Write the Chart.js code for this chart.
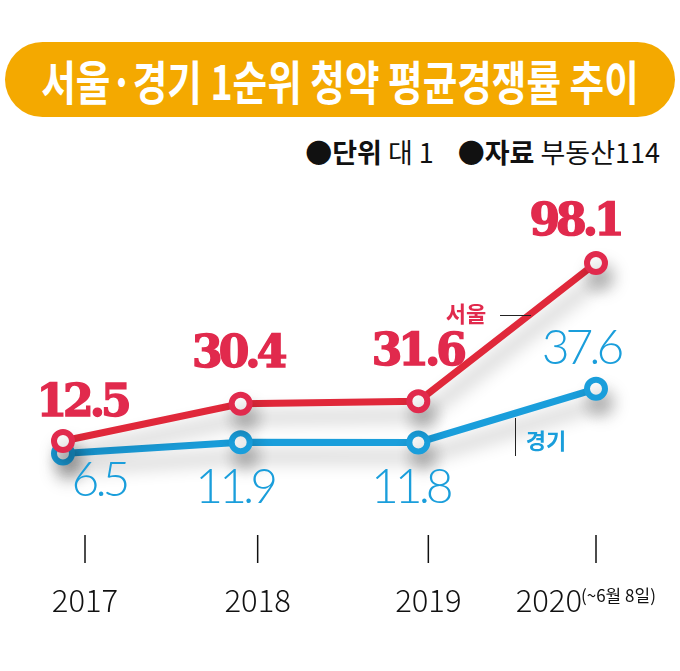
<!DOCTYPE html>
<html>
<head>
<meta charset="utf-8">
<script src="https://cdn.jsdelivr.net/npm/chart.js@4"></script>
<style>
  body { margin: 0; background: #fff; width: 680px; height: 671px; overflow: hidden; position: relative; font-family: "Noto Sans CJK KR", sans-serif; }
  #title { position: absolute; left: 5px; top: 42px; width: 670px; height: 75px; border-radius: 38px; background: #f4a900; }
  #title span { position: absolute; left: 50%; top: 0; line-height: 75px; color: #fff; font-weight: 700; font-size: 47px;
                white-space: nowrap; transform: translateX(-50%) scaleX(0.8); }
  #legend { position: absolute; right: 20px; top: 132px; font-size: 27px; color: #111; white-space: nowrap; }
  #legend b { font-weight: 700; }
  #legend .gap { display: inline-block; width: 24px; }
  #chart { position: absolute; left: 0; top: 0; }
</style>
</head>
<body>
<div id="title"><span>서울·경기 1순위 청약 평균경쟁률 추이</span></div>
<div id="legend">●<b>단위</b> 대 1<span class="gap"></span>●<b>자료</b> 부동산114</div>
<canvas id="chart" width="680" height="671"></canvas>
<script>
const years = ["2017", "2018", "2019", "2020"];
const seoul = [12.5, 30.4, 31.6, 98.1];
const gyeonggi = [6.5, 11.9, 11.8, 37.6];

const RED = "#e0283a";
const RED_PT = "#e12a4d";
const BLUE = "#1a9edb";

// label offsets from each point (px)
const seoulOffsets = [[19, -36], [-3, -48], [-1, -48], [-21, -39]];
const ggOffsets = [[36, 27], [-6, 45], [-8, 45], [-15, -40]];
// year label shift from data x position
const yearShift = [22, 17, 10, 0];

const shadowPlugin = {
  id: "shadow",
  beforeDatasetDraw(chart) {
    const ctx = chart.ctx;
    ctx.save();
    ctx.shadowColor = "rgba(0,0,0,0.3)";
    ctx.shadowBlur = 18;
    ctx.shadowOffsetX = 5;
    ctx.shadowOffsetY = 14;
  },
  afterDatasetDraw(chart) {
    chart.ctx.restore();
  }
};

const labelPlugin = {
  id: "labels",
  afterDatasetsDraw(chart) {
    const ctx = chart.ctx;
    const x = chart.scales.x;
    ctx.save();
    ctx.textAlign = "center";
    ctx.textBaseline = "middle";

    // 서울 values (heavy)
    let meta = chart.getDatasetMeta(0);
    ctx.font = "bold 44px 'DejaVu Serif'";
    ctx.fillStyle = RED_PT;
    ctx.strokeStyle = RED_PT;
    ctx.lineWidth = 1.5;
    ctx.letterSpacing = "-4px";
    meta.data.forEach((pt, i) => {
      const tx = pt.x + seoulOffsets[i][0], ty = pt.y + seoulOffsets[i][1];
      ctx.fillText(seoul[i].toFixed(1), tx, ty);
      ctx.strokeText(seoul[i].toFixed(1), tx, ty);
    });

    // 경기 values (light)
    meta = chart.getDatasetMeta(1);
    ctx.font = "300 48px Lato";
    ctx.fillStyle = BLUE;
    ctx.letterSpacing = "-4px";
    meta.data.forEach((pt, i) => {
      ctx.fillText(gyeonggi[i].toFixed(1), pt.x + ggOffsets[i][0], pt.y + ggOffsets[i][1]);
    });
    ctx.letterSpacing = "0px";

    // series names
    ctx.font = "bold 22px 'Noto Sans CJK KR'";
    ctx.fillStyle = RED_PT;
    ctx.fillText("서울", 466, 314);
    ctx.fillStyle = BLUE;
    ctx.fillText("경기", 546, 441);
    ctx.strokeStyle = "#222";
    ctx.lineWidth = 1;
    ctx.beginPath();
    ctx.moveTo(500, 315.5); ctx.lineTo(531, 315.5);
    ctx.moveTo(515.5, 418); ctx.lineTo(515.5, 456);
    ctx.stroke();

    // year ticks + labels
    ctx.strokeStyle = "#111";
    ctx.lineWidth = 1.5;
    years.forEach((y, i) => {
      const cx = x.getPixelForValue(i) + yearShift[i];
      ctx.beginPath();
      ctx.moveTo(cx, 535); ctx.lineTo(cx, 563);
      ctx.stroke();
      ctx.fillStyle = "#111";
      ctx.font = "300 31px 'Noto Sans CJK KR'";
      if (i < years.length - 1) {
        ctx.textAlign = "center";
        ctx.fillText(y, cx, 600);
      } else {
        ctx.textAlign = "right";
        ctx.fillText(y, cx - 14, 600);
        ctx.textAlign = "left";
        ctx.font = "17px 'Noto Sans CJK KR'";
        ctx.fillText("(~6월 8일)", cx - 15, 596);
      }
    });
    ctx.restore();
  }
};

new Chart(document.getElementById("chart"), {
  type: "line",
  data: {
    labels: years,
    datasets: [
      {
        label: "서울",
        data: seoul,
        borderColor: RED,
        borderWidth: 7,
        pointRadius: 9,
        pointBorderWidth: 6,
        pointBorderColor: RED_PT,
        pointBackgroundColor: "#fff",
        tension: 0,
        clip: false
      },
      {
        label: "경기",
        data: gyeonggi,
        borderColor: BLUE,
        borderWidth: 7,
        pointRadius: 9,
        pointBorderWidth: 6,
        pointBorderColor: BLUE,
        pointBackgroundColor: "#fff",
        tension: 0,
        clip: false
      }
    ]
  },
  options: {
    responsive: false,
    animation: false,
    devicePixelRatio: 1,
    layout: { padding: { left: 63, right: 84, top: 259, bottom: 204 } },
    plugins: { legend: { display: false }, tooltip: { enabled: false } },
    scales: {
      x: { display: false },
      y: { display: false, min: 0, max: 100 }
    }
  },
  plugins: [shadowPlugin, labelPlugin]
});
</script>
</body>
</html>
